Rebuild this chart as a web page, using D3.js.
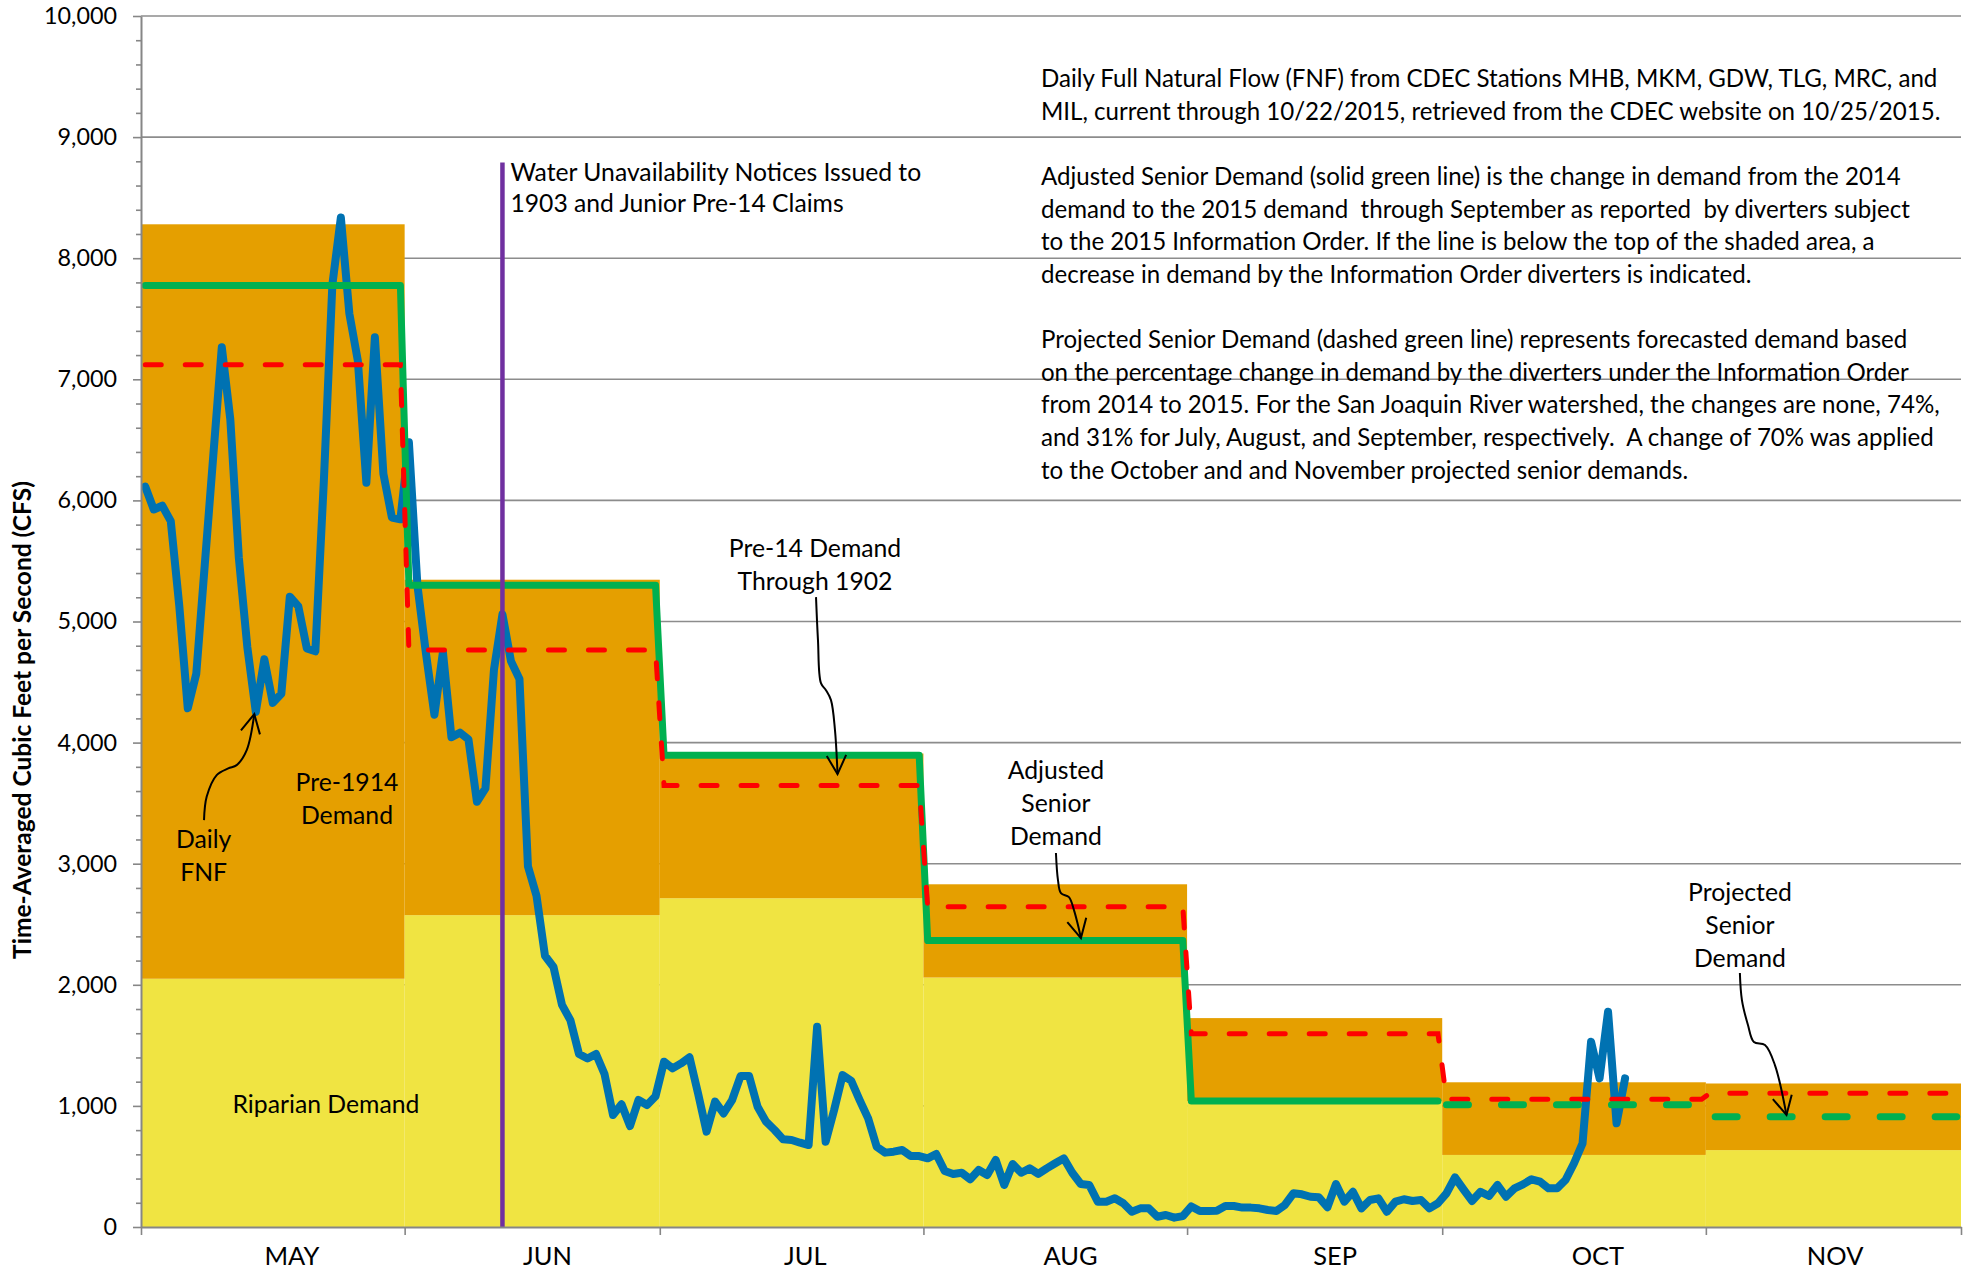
<!DOCTYPE html>
<html><head><meta charset="utf-8">
<script src="https://cdn.jsdelivr.net/npm/d3@7"></script>
<style>
body{margin:0;background:#fff;}
svg{display:block;}
text{font-family:Lato,"Open Sans",sans-serif;fill:#000;white-space:pre;}
</style>
</head><body>
<svg id="chart" width="1984" height="1271"></svg>
<script>
// ---------------- DATA ----------------
const months = ["MAY","JUN","JUL","AUG","SEP","OCT","NOV"];
const monthStarts = ["2015-05-01","2015-06-01","2015-07-01","2015-08-01","2015-09-01","2015-10-01","2015-11-01","2015-12-01"];
const monthLabelDay = [17.75, 16.8, 17.1, 17.3, 17.4, 18.3, 15.2]; // label position, days after month start
const riparianDemand = [2050, 2575, 2715, 2060, 1040, 595, 635];
const pre1914Demand = [8280, 5345, 3910, 2830, 1725, 1195, 1185];
const pre14Through1902 = [7120, 4765, 3645, 2645, 1595, 1055, 1105];
const adjustedSeniorDemand = [7775, 5300, 3895, 2365, 1040, null, null];
const projectedSeniorDemand = [null, null, null, null, null, 1010, 910];
const fnfStart = "2015-05-01";
const dailyFNF = [
 // May
 6114,5925,5956,5829,5130,4283,4569,5470,6370,7264,6670,5530,4790,4253,4688,4328,4403,5205,5124,4778,4754,6160,7781,8336,7542,7152,6145,7347,6220,5859,5844,
 // Jun
 6480,5300,4740,4230,4746,4045,4082,4027,3511,3622,4600,5059,4673,4525,2977,2737,2240,2147,1834,1706,1429,1392,1429,1263,925,1013,834,1049,1007,1080,
 // Jul
 1365,1310,1351,1401,1103,787,1035,938,1048,1247,1247,993,870,801,724,718,696,677,1654,704,966,1255,1208,1048,897,663,614,622,636,586,586,
 // Aug
 567,603,462,438,448,394,471,429,553,347,520,448,484,438,484,526,567,448,355,347,209,209,237,196,126,154,154,85,99,77,90,
 // Sep
 170,132,132,135,173,173,160,160,154,140,132,182,278,270,250,245,163,355,209,291,154,223,237,126,209,229,215,223,154,196,
 // Oct (through 10/22)
 278,410,311,215,291,256,347,250,319,352,394,374,319,319,388,526,691,1530,1227,1778,856,1227
];
const noticeDate = "2015-06-12";
const noticeTopValue = 8790;
const yMajorTicks = [0,1000,2000,3000,4000,5000,6000,7000,8000,9000,10000];
const yMinorStep = 200;

// annotations, in (days since May 1, value) units
const textLabels = [
  {lines:["Daily","FNF"], day:7.37, value:3203},
  {lines:["Pre-1914","Demand"], day:24.22, value:3674},
  {lines:["Riparian Demand"], day:21.75, value:1015},
  {lines:["Pre-14 Demand","Through 1902"], day:79.25, value:5606},
  {lines:["Adjusted","Senior","Demand"], day:107.58, value:3769},
  {lines:["Projected","Senior","Demand"], day:188.01, value:2768}
];
const arrows = [
  [[7.41,3360],[7.72,3552],[8.9,3732],[10.26,3787],[11.25,3814],[12.43,3938],[13.32,4235]],
  [[79.37,5201],[79.6,4846],[79.95,4491],[80.54,4433],[81.13,4351],[81.6,4103],[81.9,3740]],
  [[107.58,3088],[107.82,2865],[108.17,2757],[109.11,2724],[109.7,2617],[110.17,2493],[110.52,2386]],
  [[188.0,2097],[188.24,1874],[188.95,1668],[189.65,1527],[190.95,1503],[192.12,1337],[193.48,925]]
];
const noticeText = ["Water Unavailability Notices Issued to","1903 and Junior Pre-14 Claims"];
const paragraphs = [
  ["Daily Full Natural Flow (FNF) from CDEC Stations MHB, MKM, GDW, TLG, MRC, and",
   "MIL, current through 10/22/2015, retrieved from the CDEC website on 10/25/2015."],
  ["Adjusted Senior Demand (solid green line) is the change in demand from the 2014",
   "demand to the 2015 demand  through September as reported  by diverters subject",
   "to the 2015 Information Order. If the line is below the top of the shaded area, a",
   "decrease in demand by the Information Order diverters is indicated."],
  ["Projected Senior Demand (dashed green line) represents forecasted demand based",
   "on the percentage change in demand by the diverters under the Information Order",
   "from 2014 to 2015. For the San Joaquin River watershed, the changes are none, 74%,",
   "and 31% for July, August, and September, respectively.  A change of 70% was applied",
   "to the October and and November projected senior demands."]
];
const paragraphAnchor = {day:105.82, value:9482};
const yTitle = "Time-Averaged Cubic Feet per Second (CFS)";

// ---------------- CHART ----------------
const svg = d3.select("#chart");
const DAY = 864e5;
const parse = s => new Date(s + "T00:00:00Z");
const t0 = parse(fnfStart).getTime();
const monthDates = monthStarts.map(parse);
const plotL = 141, plotR = 1961, plotT = 16, plotB = 1227;

const x = d3.scaleUtc().domain([monthDates[0], monthDates[monthDates.length-1]]).range([plotL, plotR]);
const y = d3.scaleLinear().domain([0, 10000]).range([plotB, plotT]);
const X = d => x(new Date(t0 + d * DAY));

const C = {
  yellow:"#F0E442", orange:"#E59F00", blue:"#0072B2", green:"#00B050",
  red:"#FF0000", purple:"#7030A0", grid:"#8C8C8C", axis:"#868686"
};

// gridlines
svg.append("g").selectAll("line").data(yMajorTicks.filter(v => v > 0)).join("line")
  .attr("x1", plotL).attr("x2", plotR).attr("y1", d => y(d)).attr("y2", d => y(d))
  .attr("stroke", C.grid).attr("stroke-width", 1.6);

// areas
const areaG = svg.append("g");
months.forEach((m, i) => {
  const x0 = x(monthDates[i]), x1 = x(monthDates[i+1]);
  areaG.append("rect").attr("x", x0).attr("width", x1 - x0)
    .attr("y", y(riparianDemand[i])).attr("height", y(0) - y(riparianDemand[i])).attr("fill", C.yellow);
  areaG.append("rect").attr("x", x0).attr("width", x1 - x0)
    .attr("y", y(pre1914Demand[i])).attr("height", y(riparianDemand[i]) - y(pre1914Demand[i])).attr("fill", C.orange);
});

// daily step series from monthly values (day-centred points)
function dailyFromMonthly(vals) {
  const out = [];
  vals.forEach((v, i) => {
    d3.utcDay.range(monthDates[i], monthDates[i+1]).forEach(dt => {
      out.push({date: new Date(dt.getTime() + DAY/2), value: v});
    });
  });
  return out;
}
const lineGen = d3.line().defined(d => d.value != null)
  .x(d => x(d.date)).y(d => y(d.value));

const fnfData = dailyFNF.map((v, i) => ({date: new Date(t0 + (i + 0.5) * DAY), value: v}));

svg.append("path").datum(fnfData).attr("d", lineGen)
  .attr("fill", "none").attr("stroke", C.blue).attr("stroke-width", 8)
  .attr("stroke-linejoin", "round").attr("stroke-linecap", "round");

svg.append("path").datum(dailyFromMonthly(adjustedSeniorDemand)).attr("d", lineGen)
  .attr("fill", "none").attr("stroke", C.green).attr("stroke-width", 7)
  .attr("stroke-linejoin", "round").attr("stroke-linecap", "round");

svg.append("path").datum(dailyFromMonthly(pre14Through1902)).attr("d", lineGen)
  .attr("fill", "none").attr("stroke", C.red).attr("stroke-width", 5)
  .attr("stroke-dasharray", "16,24").attr("stroke-linecap", "round");

svg.append("path").datum(dailyFromMonthly(projectedSeniorDemand).filter(d => d.value != null)).attr("d", lineGen)
  .attr("fill", "none").attr("stroke", C.green).attr("stroke-width", 7)
  .attr("stroke-dasharray", "22,33").attr("stroke-linecap", "round");

// notice line
const nx = x(new Date(parse(noticeDate).getTime() + DAY/2));
svg.append("line").attr("x1", nx).attr("x2", nx).attr("y1", y(noticeTopValue)).attr("y2", y(0))
  .attr("stroke", C.purple).attr("stroke-width", 4.5);

// axes
const yAxis = svg.append("g").attr("transform", `translate(${plotL},0)`)
  .call(d3.axisLeft(y).tickValues(yMajorTicks).tickSize(8).tickSizeOuter(0).tickPadding(16).tickFormat(d3.format(",")));
yAxis.select(".domain").attr("stroke", C.axis).attr("stroke-width", 2);
yAxis.selectAll(".tick line").attr("stroke", C.axis).attr("stroke-width", 1.6);
const minor = d3.range(0, 10001, yMinorStep).filter(v => v % 1000 !== 0);
const yMinor = svg.append("g").attr("transform", `translate(${plotL},0)`)
  .call(d3.axisLeft(y).tickValues(minor).tickSize(5).tickFormat(""));
yMinor.select(".domain").remove();
yMinor.selectAll(".tick line").attr("stroke", C.axis).attr("stroke-width", 1.6);

const xAxis = svg.append("g").attr("transform", `translate(0,${plotB})`)
  .call(d3.axisBottom(x).tickValues(monthDates).tickSize(8).tickSizeOuter(0).tickFormat(""));
xAxis.select(".domain").attr("stroke", C.axis).attr("stroke-width", 2);
xAxis.selectAll(".tick line").attr("stroke", C.axis).attr("stroke-width", 1.6);

// font fitting helper
function fitSize(str, target, weight) {
  const t = svg.append("text").attr("font-size", 100).attr("font-weight", weight || 400).text(str);
  const L = t.node().getComputedTextLength();
  t.remove();
  return 100 * target / L;
}

const tickFs = fitSize("10,000", 73);
yAxis.selectAll(".tick text").attr("font-size", tickFs).attr("font-family", "Lato").attr("fill", "#000");

const monthFs = fitSize("MAY", 55);
svg.append("g").selectAll("text").data(months).join("text")
  .attr("x", (d, i) => x(new Date(monthDates[i].getTime() + monthLabelDay[i] * DAY)))
  .attr("y", 1265).attr("text-anchor", "middle").attr("font-size", monthFs).text(d => d);

const titleFs = fitSize(yTitle, 478, 700);
svg.append("text").attr("transform", `translate(31,720) rotate(-90)`)
  .attr("text-anchor", "middle").attr("font-weight", 700).attr("font-size", titleFs).text(yTitle);

// labels
const labelFs = fitSize("Riparian Demand", 187);
const lh = 33;
textLabels.forEach(l => {
  const t = svg.append("text").attr("font-size", labelFs).attr("text-anchor", "middle");
  l.lines.forEach((s, k) => {
    t.append("tspan").attr("x", X(l.day)).attr("y", y(l.value) + k * lh + labelFs * 0.36).text(s);
  });
});

// arrows
const arrowLine = d3.line().curve(d3.curveCatmullRom.alpha(0.5)).x(p => X(p[0])).y(p => y(p[1]));
arrows.forEach(a => {
  svg.append("path").attr("d", arrowLine(a)).attr("fill", "none").attr("stroke", "#000").attr("stroke-width", 2);
  const tip = [X(a[a.length-1][0]), y(a[a.length-1][1])];
  const prev = [X(a[a.length-2][0]), y(a[a.length-2][1])];
  const ang = Math.atan2(tip[1] - prev[1], tip[0] - prev[0]);
  const len = 21, spread = 0.48;
  const p1 = [tip[0] - len * Math.cos(ang - spread), tip[1] - len * Math.sin(ang - spread)];
  const p2 = [tip[0] - len * Math.cos(ang + spread), tip[1] - len * Math.sin(ang + spread)];
  svg.append("path").attr("d", `M${p1}L${tip}L${p2}`).attr("fill", "none")
    .attr("stroke", "#000").attr("stroke-width", 2).attr("stroke-linejoin", "miter");
});

// notice text
const noticeFs = fitSize(noticeText[0], 411);
const nt = svg.append("text").attr("font-size", noticeFs);
noticeText.forEach((s, k) => nt.append("tspan").attr("x", nx + 8).attr("y", 171.7 + k * 31.5 + noticeFs * 0.36).text(s));

// paragraph block
const paraFs = fitSize(paragraphs[0][0], 897);
const pg = svg.append("text").attr("font-size", paraFs);
let k = 0;
const px0 = X(paragraphAnchor.day), py0 = y(paragraphAnchor.value);
paragraphs.forEach((para, pi) => {
  para.forEach(s => {
    pg.append("tspan").attr("x", px0).attr("y", py0 + k * 32.6 + paraFs * 0.36).text(s);
    k++;
  });
  k++;
});
</script>
</body></html>
